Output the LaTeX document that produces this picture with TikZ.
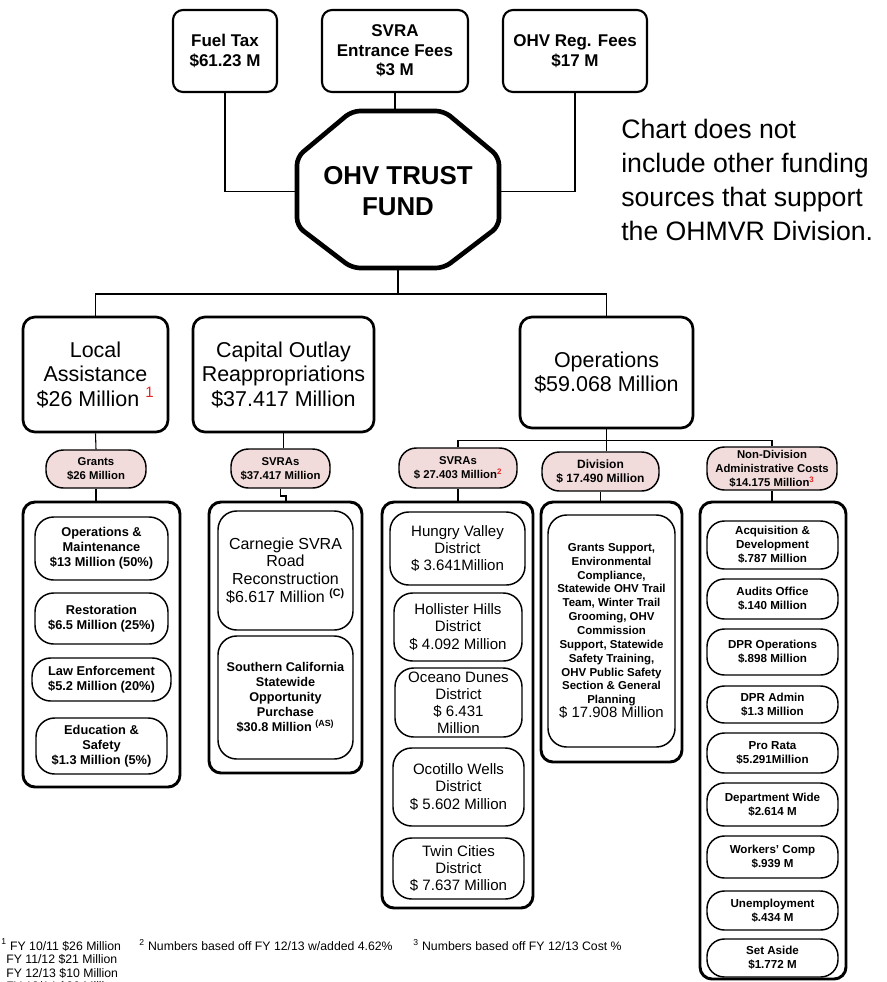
\documentclass[tikz,border=0pt]{standalone}
\usepackage{fontspec}
\setmainfont{Liberation Sans}
\definecolor{pinkfill}{HTML}{F2DCDB}
\definecolor{fnred}{HTML}{E02828}
\newcommand\rsup[1]{\textsuperscript{\color{fnred}#1}}
% box from pixel corners (x1,y1)-(x2,y2)
\newcommand\bx[6]{\node[#1, minimum width={(#4-#2)*0.75pt}, minimum height={(#5-#3)*0.75pt}] (#6) at ({(#2+#4)/2},{(#3+#5)/2})}
\begin{document}
\begin{tikzpicture}[x=0.75pt,y=-0.75pt,
  conn/.style={draw, line width=0.8pt},
  base/.style={inner sep=0pt, align=center},
  topbox/.style={base, draw, line width=1.6pt, rounded corners=7.5pt, font=\fontsize{12.75}{14.6}\selectfont\bfseries},
  lvlbox/.style={base, draw, line width=2pt, rounded corners=9pt, font=\fontsize{16.1}{18.4}\selectfont},
  pinkpill/.style={base, draw, fill=pinkfill, line width=1.1pt, rounded corners=13pt, font=\fontsize{8.5}{10.5}\selectfont\bfseries},
  container/.style={base, draw, line width=2.2pt, rounded corners=9pt},
  innerbox/.style={base, draw, line width=1.1pt, rounded corners=14pt},
  labox/.style={innerbox, font=\fontsize{9.6}{11.25}\selectfont\bfseries},
  carbox/.style={innerbox, font=\fontsize{12}{13.2}\selectfont},
  socalbox/.style={innerbox, font=\fontsize{9.5}{11.3}\selectfont\bfseries},
  distbox/.style={innerbox, font=\fontsize{11.3}{12.8}\selectfont},
  divbox/.style={innerbox, font=\fontsize{8.6}{10.4}\selectfont\bfseries},
  ndbox/.style={innerbox, rounded corners=13pt, font=\fontsize{8.7}{10.5}\selectfont\bfseries},
  fntext/.style={inner sep=0pt, anchor=west, font=\fontsize{9.2}{10.5}\selectfont}]
\useasboundingbox (0,0) rectangle (886,982);

% ---------- sources ----------
\bx{topbox}{173}{10}{277}{92}{fuel} {Fuel Tax\\\$61.23 M};
\bx{topbox}{322}{10}{468}{92}{svra} {SVRA\\Entrance Fees\\\$3 M};
\bx{topbox}{503}{10}{647}{92}{reg} {OHV Reg. Fees\\\$17 M};

% ---------- trust fund octagon ----------
\bx{base, font=\fontsize{19.4}{23.25}\selectfont\bfseries}{297}{113}{499}{270}{trust} {OHV TRUST\\FUND};
\draw[line width=3.5pt, rounded corners=6pt] (352,111) -- (444,111) -- (499,157) -- (499,226) -- (444,268) -- (352,268) -- (297,226) -- (297,157) -- cycle;

\node[inner sep=0pt, anchor=west, align=left, font=\fontsize{20}{25.5}\selectfont] (note) at (621,180)
  {Chart does not\\include other funding\\sources that support\\the OHMVR Division.};

% ---------- level 2 ----------
\bx{lvlbox}{23}{317}{168}{432}{local} {Local\\Assistance\\\$26 Million \rsup{1}};
\bx{lvlbox}{193}{317}{374}{432}{capital} {Capital Outlay\\Reappropriations\\\$37.417 Million};
\bx{lvlbox}{520}{317}{693}{428}{ops} {Operations\\\$59.068 Million};

% ---------- pills ----------
\bx{pinkpill}{46}{450}{146}{488}{grants} {Grants\\\$26 Million};
\bx{pinkpill}{231}{449}{330}{488}{csvras} {SVRAs\\\$37.417 Million};
\bx{pinkpill}{399}{448}{517}{488}{osvras} {SVRAs\\\$ 27.403 Million\rsup{2}};
\bx{pinkpill, font=\fontsize{9}{11}\selectfont\bfseries}{542}{452}{659}{491}{div} {Division\\\$ 17.490 Million};
\bx{pinkpill}{707}{447}{837}{490}{nd} {Non-Division\\Administrative Costs\\\$14.175 Million\rsup{3}};

% ---------- containers ----------
\bx{container}{23}{502}{180}{787}{lc} {};
\bx{container}{209}{502}{362}{773}{cc} {};
\bx{container}{382}{502}{533}{908}{sc} {};
\bx{container}{541}{502}{682}{762}{dc} {};
\bx{container}{700}{502}{846}{979}{nc} {};

% local assistance items
\bx{labox}{35}{517}{168}{580}{la1} {Operations \&\\Maintenance\\\$13 Million (50\%)};
\bx{labox}{35}{593}{168}{644}{la2} {Restoration\\\$6.5 Million (25\%)};
\bx{labox}{32}{658}{171}{701}{la3} {Law Enforcement\\\$5.2 Million (20\%)};
\bx{labox}{36}{718}{167}{774}{la4} {Education \&\\Safety\\\$1.3 Million (5\%)};

% capital outlay items
\bx{carbox}{218}{511}{353}{630}{cc1} {Carnegie SVRA\\Road\\Reconstruction\\\$6.617 Million \textsuperscript{\bfseries(C)}};
\bx{socalbox}{218}{636}{353}{759}{cc2} {Southern California\\Statewide\\Opportunity\\Purchase\\\$30.8 Million \textsuperscript{(AS)}};

% SVRA districts
\bx{distbox}{390}{512}{525}{585}{s1} {Hungry Valley\\District\\\$ 3.641Million};
\bx{distbox}{394}{593}{522}{661}{s2} {Hollister Hills\\District\\\$ 4.092 Million};
\bx{distbox}{395}{668}{522}{737}{s3} {Oceano Dunes\\District\\\$ 6.431\\Million};
\bx{distbox}{393}{748}{524}{826}{s4} {Ocotillo Wells\\District\\\$ 5.602 Million};
\bx{distbox}{393}{838}{524}{899}{s5} {Twin Cities\\District\\\$ 7.637 Million};

% division
\bx{divbox}{548}{515}{675}{747}{d1} {Grants Support,\\Environmental\\Compliance,\\Statewide OHV Trail\\Team, Winter Trail\\Grooming, OHV\\Commission\\Support, Statewide\\Safety Training,\\OHV Public Safety\\Section \& General\\Planning\\{\fontsize{11.2}{13}\selectfont\mdseries \$ 17.908 Million}};

% non-division items
\bx{ndbox}{707}{521}{838}{569}{n1} {Acquisition \&\\Development\\\$.787 Million};
\bx{ndbox}{707}{579}{838}{619}{n2} {Audits Office\\\$.140 Million};
\bx{ndbox}{707}{629}{838}{675}{n3} {DPR Operations\\\$.898 Million};
\bx{ndbox}{707}{686}{838}{723}{n4} {DPR Admin\\\$1.3 Million};
\bx{ndbox}{707}{733}{838}{773}{n5} {Pro Rata\\\$5.291Million};
\bx{ndbox}{707}{783}{838}{826}{n6} {Department Wide\\\$2.614 M};
\bx{ndbox}{707}{836}{838}{878}{n7} {Workers' Comp\\\$.939 M};
\bx{ndbox}{707}{891}{838}{930}{n8} {Unemployment\\\$.434 M};
\bx{ndbox}{707}{939}{838}{977}{n9} {Set Aside\\\$1.772 M};

% ---------- connectors ----------
\draw[conn] (fuel.south) |- (trust.west);
\draw[conn] (svra.south) -- (svra.south |- 0,111);
\draw[conn] (reg.south) |- (trust.east);
\coordinate (bus1) at (398,294);
\draw[conn] (398,268) -- (bus1);
\draw[conn] (local.north) |- (bus1) -| (ops.north);
\draw[conn] (local.south) -- (grants.north);
\draw[conn] (grants.south) -- (grants.south |- lc.north);
\draw[conn] (capital.south) -- (capital.south |- csvras.north);
\coordinate (jog) at (286,496);
\draw[conn] (csvras.south) |- (jog) -- (jog |- cc.north);
\path (ops.south) ++(0,11) coordinate (bus2);
\draw[conn] (ops.south) -- (ops.south |- div.north);
\draw[conn] (osvras.north) |- (bus2) -| (nd.north);
\draw[conn] (osvras.south) -- (osvras.south |- sc.north);
\draw[conn] (div.south) -- (div.south |- dc.north);
\draw[conn] (nd.south) -- (nd.south |- nc.north);

% ---------- footnotes ----------
\node[fntext] (f1a) at (1,945) {\textsuperscript{1} FY 10/11 \$26 Million};
\node[fntext] (f1b) at (6,959) {FY 11/12 \$21 Million};
\node[fntext] (f1c) at (6,973) {FY 12/13 \$10 Million};
\node[fntext] (f1d) at (6,986) {FY 13/14 \$26 Million};
\node[fntext] (f2) at (139,945) {\textsuperscript{2} Numbers based off FY 12/13 w/added 4.62\%};
\node[fntext] (f3) at (413,945) {\textsuperscript{3} Numbers based off FY 12/13 Cost \%};
\end{tikzpicture}
\end{document}
